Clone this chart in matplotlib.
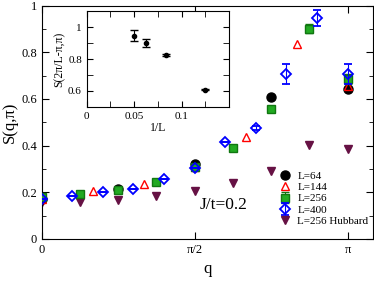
import numpy as np
import matplotlib.pyplot as plt
from matplotlib.ticker import MultipleLocator

plt.rcParams['font.family'] = ['Liberation Serif', 'DejaVu Serif']

pi = np.pi

# main panel data, q in units of pi
q64 = np.array([0, 0.25, 0.5, 0.75, 1.0]) * pi
s64 = [0.17, 0.215, 0.32, 0.607, 0.642]

q144 = np.array([0, 1/6, 1/3, 0.5, 2/3, 5/6, 1.0]) * pi
s144 = [0.17, 0.205, 0.234, 0.31, 0.435, 0.834, 0.655]

q256 = np.array([0, 1/8, 2/8, 3/8, 4/8, 5/8, 6/8, 7/8, 1.0]) * pi
s256 = [0.18, 0.194, 0.21, 0.243, 0.31, 0.388, 0.557, 0.902, 0.685]
e256 = [0, 0, 0, 0, 0, 0, 0, 0.018, 0.02]

q400 = np.array([0, 0.1, 0.2, 0.3, 0.4, 0.5, 0.6, 0.7, 0.8, 0.9, 1.0]) * pi
s400 = [0.17, 0.185, 0.2, 0.213, 0.258, 0.305, 0.414, 0.477, 0.707, 0.948, 0.707]
e400 = [0, 0, 0, 0, 0, 0, 0, 0.008, 0.041, 0.035, 0.041]

qhub = np.array([0, 1/8, 2/8, 3/8, 4/8, 5/8, 6/8, 7/8, 1.0]) * pi
shub = [0.16, 0.16, 0.167, 0.185, 0.207, 0.241, 0.293, 0.403, 0.384]

# inset data
invL = [1/20, 1/16, 1/12, 1/8]
s_inset = [0.945, 0.90, 0.827, 0.608]
e_inset = [0.035, 0.023, 0.006, 0.004]

fig = plt.figure(figsize=(3.74, 2.83), dpi=100)
ax = fig.add_axes([0.1115, 0.1555, 0.885, 0.8245])

h1, = ax.plot(q64, s64, 'o', color='black', ms=6.5, label='L=64', zorder=3)
h2, = ax.plot(q144, s144, '^', mfc='none', mec='red', mew=1.0, ms=6, label='L=144', zorder=4)
h3 = ax.errorbar(q256, s256, yerr=e256, fmt='s', color='#22aa22', mec='#117711',
                 ecolor='#117711', elinewidth=0.8, capsize=3, ms=5.5, label='L=256', zorder=5)
h4 = ax.errorbar(q400, s400, yerr=e400, fmt='D', mfc='none', mec='blue', mew=1.3,
                 ecolor='blue', elinewidth=0.8, capsize=3, ms=5, color='blue', label='L=400', zorder=6)
h5, = ax.plot(qhub, shub, 'v', color='#661144', ms=6, label='L=256 Hubbard', zorder=2)

ax.set_xlim(0, 3.4)
ax.set_ylim(0, 1)
ax.set_xticks([0, pi/2, pi])
ax.set_xticklabels(['0', 'π/2', 'π'])
ax.set_yticks([0, 0.2, 0.4, 0.6, 0.8, 1])
ax.set_yticklabels(['0', '0.2', '0.4', '0.6', '0.8', '1'])
ax.yaxis.set_minor_locator(MultipleLocator(0.1))
ax.tick_params(direction='in', which='both', top=True, right=True, labelsize=9)
ax.tick_params(which='major', length=5)
ax.tick_params(which='minor', length=3)
ax.set_xlabel('q', fontsize=12)
ax.set_ylabel('S(q,π)', fontsize=12, labelpad=2)

ax.text(0.478, 0.146, 'J/t=0.2', transform=ax.transAxes, fontsize=12.5, va='center')

ax.legend([h1, h2, h3, h4, h5], ['L=64', 'L=144', 'L=256', 'L=400', 'L=256 Hubbard'],
          loc='lower left', bbox_to_anchor=(0.705, 0.035), frameon=False,
          fontsize=8, handlelength=1.0, handletextpad=0.6, labelspacing=0.15,
          borderaxespad=0, numpoints=1)

ins = fig.add_axes([0.232, 0.622, 0.380, 0.339])
ins.errorbar(invL, s_inset, yerr=e_inset, fmt='o', color='black', ms=3,
             elinewidth=0.8, capsize=3)
ins.set_xlim(0, 0.15)
ins.set_ylim(0.5, 1.1)
ins.set_xticks([0, 0.05, 0.1])
ins.set_xticklabels(['0', '0.05', '0.1'])
ins.set_yticks([0.6, 0.8, 1.0])
ins.set_yticklabels(['0.6', '0.8', '1'])
ins.xaxis.set_minor_locator(MultipleLocator(0.025))
ins.yaxis.set_minor_locator(MultipleLocator(0.1))
ins.tick_params(direction='in', which='both', top=True, right=True, labelsize=8)
ins.tick_params(which='major', length=4)
ins.tick_params(which='minor', length=4)
ins.set_xlabel('1/L', fontsize=8.5, labelpad=1)
ins.set_ylabel('S(2π/L-π,π)', fontsize=8.5, labelpad=2)

fig.savefig('out.png', dpi=100)
